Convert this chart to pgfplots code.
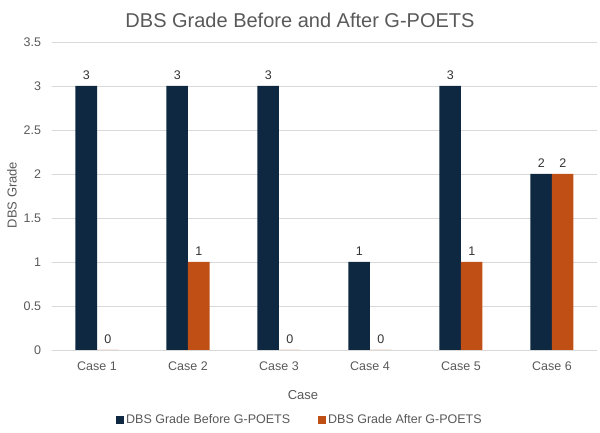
\documentclass[border=0pt]{standalone}
\usepackage{pgfplots}
\pgfplotsset{compat=1.18}
\usepackage{fontspec}
\setmainfont{Liberation Sans}
\definecolor{navy}{HTML}{0E2841}
\definecolor{orng}{HTML}{C04F15}
\definecolor{txt}{HTML}{595959}
\definecolor{gridc}{HTML}{D9D9D9}
\begin{document}
\begin{tikzpicture}[x=1pt,y=1pt]
\useasboundingbox (0,0) rectangle (600,433);
\begin{axis}[
  at={(51.5pt,83pt)}, anchor=south west,
  scale only axis, width=546pt, height=308pt,
  ymin=0, ymax=3.5, ytick={0,0.5,1,1.5,2,2.5,3,3.5},
  xmin=-0.5, xmax=5.5, xtick={0,1,2,3,4,5},
  xticklabels={Case 1,Case 2,Case 3,Case 4,Case 5,Case 6},
  ybar=0pt, bar width=21.5pt,
  axis line style={draw=none},
  major tick length=0pt,
  ymajorgrids, grid style={gridc, line width=0.8pt},
  /pgf/number format/assume math mode=true,
  tick label style={font=\fontsize{12.5}{14}\selectfont, text=txt},
  yticklabel style={xshift=-7pt},
  xticklabel style={yshift=-8pt},
  nodes near coords,
  every node near coord/.append style={font=\fontsize{12.5}{14}\selectfont, text=black!80, yshift=3pt},
  legend style={at={(0.455,-0.227)}, anchor=center, legend columns=2, draw=none,
    font=\fontsize{12.5}{14}\selectfont, text=txt,
    /tikz/every even column/.append style={column sep=26pt}},
]
\addplot[fill=navy, draw=none,
  legend image code/.code={\fill[navy] (0pt,-4pt) rectangle (8pt,4pt);}]
  coordinates {(0,3) (1,3) (2,3) (3,1) (4,3) (5,2)};
\addlegendentry{DBS Grade Before G-POETS}
\addplot[fill=orng, draw=none,
  legend image code/.code={\fill[orng] (0pt,-4pt) rectangle (8pt,4pt);}]
  coordinates {(0,0) (1,1) (2,0) (3,0) (4,1) (5,2)};
\addlegendentry{DBS Grade After G-POETS}
\end{axis}
\node[text=txt, font=\fontsize{20}{23}\selectfont] at (300,413) {DBS Grade Before and After G-POETS};
\node[text=txt, font=\fontsize{13}{15}\selectfont, rotate=90] at (12,238) {DBS Grade};
\node[text=txt, font=\fontsize{13}{15}\selectfont] at (303,38) {Case};
\end{tikzpicture}
\end{document}
